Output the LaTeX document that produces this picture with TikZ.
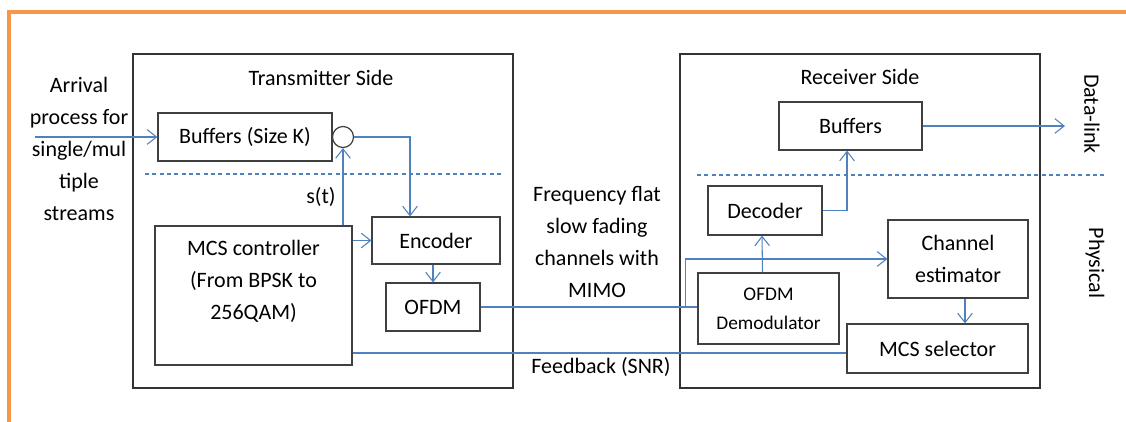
\documentclass[tikz,border=0pt]{standalone}
\usepackage{fontspec}
\setmainfont{Carlito}
\usetikzlibrary{arrows.meta,positioning,calc}

\definecolor{linkblue}{RGB}{79,129,189}
\definecolor{frameorange}{RGB}{247,150,70}

\begin{document}
\begin{tikzpicture}[
    x=0.75pt, y=-0.75pt,
    box/.style={draw=black!75, line width=0.9pt, align=center, inner sep=0pt,
                font=\fontsize{16.5}{24}\selectfont},
    side/.style={draw=black!80, line width=0.9pt, inner sep=0pt},
    txt/.style={align=center, font=\fontsize{16.5}{24}\selectfont},
    link/.style={draw=linkblue, line width=0.8pt},
    layer/.style={link, dash pattern=on 3pt off 2.5pt},
    >={Straight Barb[length=7pt,width=11pt]}
]
\useasboundingbox (0,0) rectangle (1126,421);

% ---- page frame (only top and left edges visible) ----
\draw[frameorange, line width=2.4pt] (9,440) -- (9,12) -- (1140,12);

% ---- the two sides ----
\node[side, minimum width=285pt, minimum height=250.5pt] (txside) at (323,221) {};
\node[side, minimum width=270pt, minimum height=250.5pt] (rxside) at (860,221) {};
\node[txt] (txtitle) at (321,78) {Transmitter Side};
\node[txt] (rxtitle) at (860,77) {Receiver Side};

% layer separators
\draw[layer] (145,174) -- (502,174);
\draw[layer] (697,175) -- (1107,175);

% ---- transmitter ----
\node[box, minimum width=130.5pt, minimum height=36pt] (txbuf) at (245,137) {Buffers (Size K)};
\node[draw=black!75, line width=0.9pt, circle, minimum size=15.75pt, inner sep=0pt] (sw) at (343,137) {};
\node[box, minimum width=147.75pt, minimum height=104.25pt] (mcsctl) at (253.5,295.5)
  {MCS controller\\(From BPSK to\\256QAM)\\\mbox{}};
\node[box, minimum width=96pt, minimum height=35.25pt] (enc) at (436,240.5) {Encoder};
\node[box, minimum width=70.5pt, minimum height=36pt] (ofdm) at (433,307) {OFDM};
\node[txt] (st) at (321,197) {s(t)};

% ---- receiver ----
\node[box, minimum width=107.25pt, minimum height=36pt] (rxbuf) at (850.5,126) {Buffers};
\node[box, minimum width=85.5pt, minimum height=36.75pt] (dec) at (765,210.5) {Decoder};
\node[box, minimum width=105.75pt, minimum height=53.25pt, font=\fontsize{14.5}{21.5}\selectfont]
  (demod) at (768.5,308.5) {OFDM\\Demodulator};
\node[box, minimum width=105pt, minimum height=58.5pt] (chest) at (958,259) {Channel\\estimator};
\node[box, minimum width=135.75pt, minimum height=36.75pt] (mcssel) at (937.5,348.5) {MCS selector};

% ---- free labels ----
\node[txt] (arrival) at (79,149) {Arrival\\process for\\single/mul\\tiple\\streams};
\node[txt] (chan) at (597,242) {Frequency flat\\slow fading\\channels with\\MIMO};
\node[txt] (fbtxt) at (601,367) {Feedback (SNR)};
\node[txt, rotate=-90] (dlink) at (1092,114) {Data-link};
\node[txt, rotate=-90] (phy) at (1095,263) {Physical};

% ---- connectors ----
\coordinate (arrin) at (35,137);
\coordinate (dlout) at (1065,128);
\draw[link,->] (arrin) -- (txbuf.west);
\draw[link,->] (sw.east) -| ($(enc.north)+(-26,0)$);
\draw[link,->] (mcsctl.north -| sw.south) -- (sw.south);
\draw[link,->] (mcsctl.east |- enc.west) -- (enc.west);
\draw[link,->] (ofdm.north |- enc.south) -- (ofdm.north);

\draw[link] (ofdm.east) -- (ofdm.east -| demod.west);
\coordinate (split) at ($(ofdm.east -| demod.west)+(-12,0)$);
\draw[link,->] (split) |- (chest.west);
\draw[link,->] ($(demod.north)+(-6,0)$) -- ($(dec.south)+(-3,0)$);
\draw[link,->] (dec.east) -| ($(rxbuf.south)+(-3.5,0)$);
\draw[link,->] (rxbuf.east) -- (rxbuf.east -| dlout);
\draw[link,->] ($(chest.south)+(7,0)$) coordinate (cedown) -- (cedown |- mcssel.north);

\coordinate (fb) at ($(mcssel.west)+(0,4.5)$);
\draw[link] (fb) -- (fb -| mcsctl.east);

\end{tikzpicture}
\end{document}
